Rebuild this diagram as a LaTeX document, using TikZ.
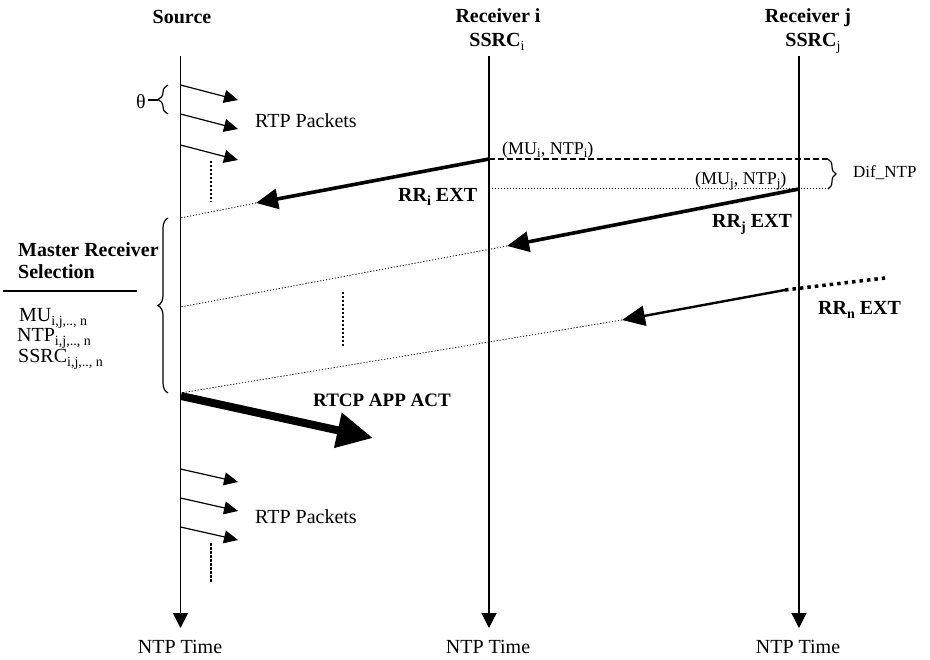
\documentclass[tikz,border=0pt]{standalone}
\usepackage{fontspec}
\setmainfont{Liberation Serif}
\usetikzlibrary{arrows.meta,decorations.pathreplacing}
\newcommand\dn[2][13]{\raisebox{-0.35ex}{\fontsize{#1}{#1}\selectfont #2}}
\begin{document}
\begin{tikzpicture}[x=1pt,y=-1pt,
  txt/.style={inner sep=0pt, anchor=base west, font=\fontsize{20}{22}\selectfont},
  btxt/.style={txt, font=\fontsize{20}{22}\selectfont\bfseries},
  stxt/.style={txt, font=\fontsize{18}{20}\selectfont},
  ttl/.style={inner sep=0pt, anchor=base, font=\fontsize{20}{22}\selectfont\bfseries},
  tlabel/.style={inner sep=0pt, anchor=base, font=\fontsize{20}{22}\selectfont},
  life/.style={line width=1.3pt, -{Triangle[length=15pt,width=15pt]}},
  pkt/.style={line width=1.2pt, -{Triangle[length=14pt,width=13pt]}},
  rrthick/.style={line width=3.6pt, -{Triangle[length=22pt,width=20pt]}},
  rrthin/.style={line width=2.4pt, -{Triangle[length=23pt,width=20pt]}},
  act/.style={line width=8pt, -{Triangle[length=36pt,width=34pt]}},
  cont/.style={line width=0.8pt, dash pattern=on 1.2pt off 1.8pt},
  vdots/.style={line width=1.8pt, dash pattern=on 2.5pt off 1.5pt},
  bigdots/.style={line width=3.5pt, dash pattern=on 3.5pt off 4pt},
  hdash/.style={line width=1.2pt, dash pattern=on 6pt off 3pt},
  hdot/.style={line width=1pt, dash pattern=on 1pt off 2pt},
  brc/.style={line width=1.2pt, decorate, decoration={brace, amplitude=#1}},
]
\useasboundingbox (0,0) rectangle (930,660);

% titles
\node[ttl] (tsrc) at (182,24) {Source};
\node[ttl] (tri) at (498,23) {Receiver i};
\node[ttl] (tsi) at (497,47) {SSRC\dn[14]{\mdseries i}};
\node[ttl] (trj) at (808,23) {Receiver j};
\node[ttl] (tsj) at (813,47) {SSRC\dn[14]{\mdseries j}};

% lifelines
\coordinate (s0) at (180.5,56); \coordinate (s1) at (180.5,628);
\coordinate (i0) at (489,56);   \coordinate (i1) at (489,628);
\coordinate (j0) at (799,56);   \coordinate (j1) at (799,628);
\draw[life] (s0) -- (s1);
\draw[life] (i0) -- (i1);
\draw[life] (j0) -- (j1);

\node[tlabel] (ns) at (180,653) {NTP Time};
\node[tlabel] (ni) at (488,653) {NTP Time};
\node[tlabel] (nj) at (798,653) {NTP Time};

% top RTP packets
\coordinate (p1a) at (180.5,85);  \coordinate (p1b) at (238,100);
\coordinate (p2a) at (180.5,114); \coordinate (p2b) at (238,129);
\coordinate (p3a) at (180.5,145); \coordinate (p3b) at (238,160);
\draw[pkt] (p1a) -- (p1b);
\draw[pkt] (p2a) -- (p2b);
\draw[pkt] (p3a) -- (p3b);
\coordinate (v1a) at (211,161); \coordinate (v1b) at (211,202);
\draw[vdots] (v1a) -- (v1b);
\node[txt] (rtp1) at (255,128) {RTP Packets};

% theta brace
\coordinate (th0) at (168,114); \coordinate (th1) at (168,85);
\draw[brc=10pt] (th0) -- (th1);
\node[inner sep=0pt, font=\fontsize{20}{22}\selectfont] (theta) at (141,102) {θ};
\coordinate (thd) at (158,100);
\draw[line width=1.2pt] (theta.east) ++(2,-2) coordinate (thc) -- (thd);

% RR_i
\coordinate (rri0) at (489,159); \coordinate (rri1) at (256,203);
\coordinate (si) at (180.5,218);
\draw[rrthick] (rri0) -- (rri1);
\draw[cont] (rri1) -- (si);
\node[btxt] (lrri) at (398,202) {RR\dn[14]{i} EXT};
\node[stxt] (mui) at (502,155) {(MU\dn[13]{i}, NTP\dn[13]{i})};

% Dif_NTP
\coordinate (di0) at (489,159); \coordinate (di1) at (828,159);
\coordinate (dj0) at (489,189); \coordinate (dj1) at (828,189);
\draw[hdash] (di0) -- (di1);
\draw[hdot] (dj0) -- (dj1);
\draw[brc=8pt] (di1) -- (dj1);
\node[txt, font=\fontsize{17}{19}\selectfont] (dif) at (853,178) {Dif\_NTP};
\node[stxt] (muj) at (695,185) {(MU\dn[13]{j}, NTP\dn[13]{j})};

% RR_j
\coordinate (rrj0) at (799,189); \coordinate (rrj1) at (507,246);
\coordinate (sj) at (180.5,307);
\draw[rrthick] (rrj0) -- (rrj1);
\draw[cont] (rrj1) -- (sj);
\node[btxt] (lrrj) at (712,228) {RR\dn[14]{j} EXT};

% RR_n
\coordinate (rrn0) at (785,290); \coordinate (rrn1) at (622,320);
\coordinate (rrnx) at (885,278);
\coordinate (sn) at (180.5,393);
\draw[rrthin] (rrn0) -- (rrn1);
\draw[bigdots] (rrn0) -- (rrnx);
\draw[cont] (rrn1) -- (sn);
\node[btxt] (lrrn) at (818,315) {RR\dn[14]{n} EXT};

\coordinate (v2a) at (343,292); \coordinate (v2b) at (343,347);
\draw[vdots] (v2a) -- (v2b);

% master receiver selection
\node[btxt] (mrs1) at (18,257) {Master Receiver};
\node[btxt] (mrs2) at (18,279) {Selection};
\coordinate (r0) at (3,291); \coordinate (r1) at (137,291);
\draw[line width=1.2pt] (r0) -- (r1);
\node[txt] (mu) at (19,322) {MU\dn[14]{i,j,.., n}};
\node[txt] (ntp) at (17,342) {NTP\dn[14]{i,j,.., n}};
\node[txt] (ssrc) at (18,363) {SSRC\dn[14]{i,j,.., n}};
\coordinate (b0) at (168,393); \coordinate (b1) at (168,218);
\draw[brc=10pt] (b0) -- (b1);

% RTCP APP ACT
\coordinate (a0) at (181,396); \coordinate (a1) at (373,438);
\draw[act] (a0) -- (a1);
\node[btxt, font=\fontsize{19}{21}\selectfont\bfseries] (lact) at (313,407) {RTCP APP ACT};

% bottom RTP packets
\coordinate (q1a) at (180.5,469); \coordinate (q1b) at (238,482);
\coordinate (q2a) at (180.5,498); \coordinate (q2b) at (238,511);
\coordinate (q3a) at (180.5,527); \coordinate (q3b) at (238,540);
\draw[pkt] (q1a) -- (q1b);
\draw[pkt] (q2a) -- (q2b);
\draw[pkt] (q3a) -- (q3b);
\coordinate (v3a) at (211,543); \coordinate (v3b) at (211,582);
\draw[vdots] (v3a) -- (v3b);
\node[txt] (rtp2) at (255,523) {RTP Packets};
\end{tikzpicture}
\end{document}
